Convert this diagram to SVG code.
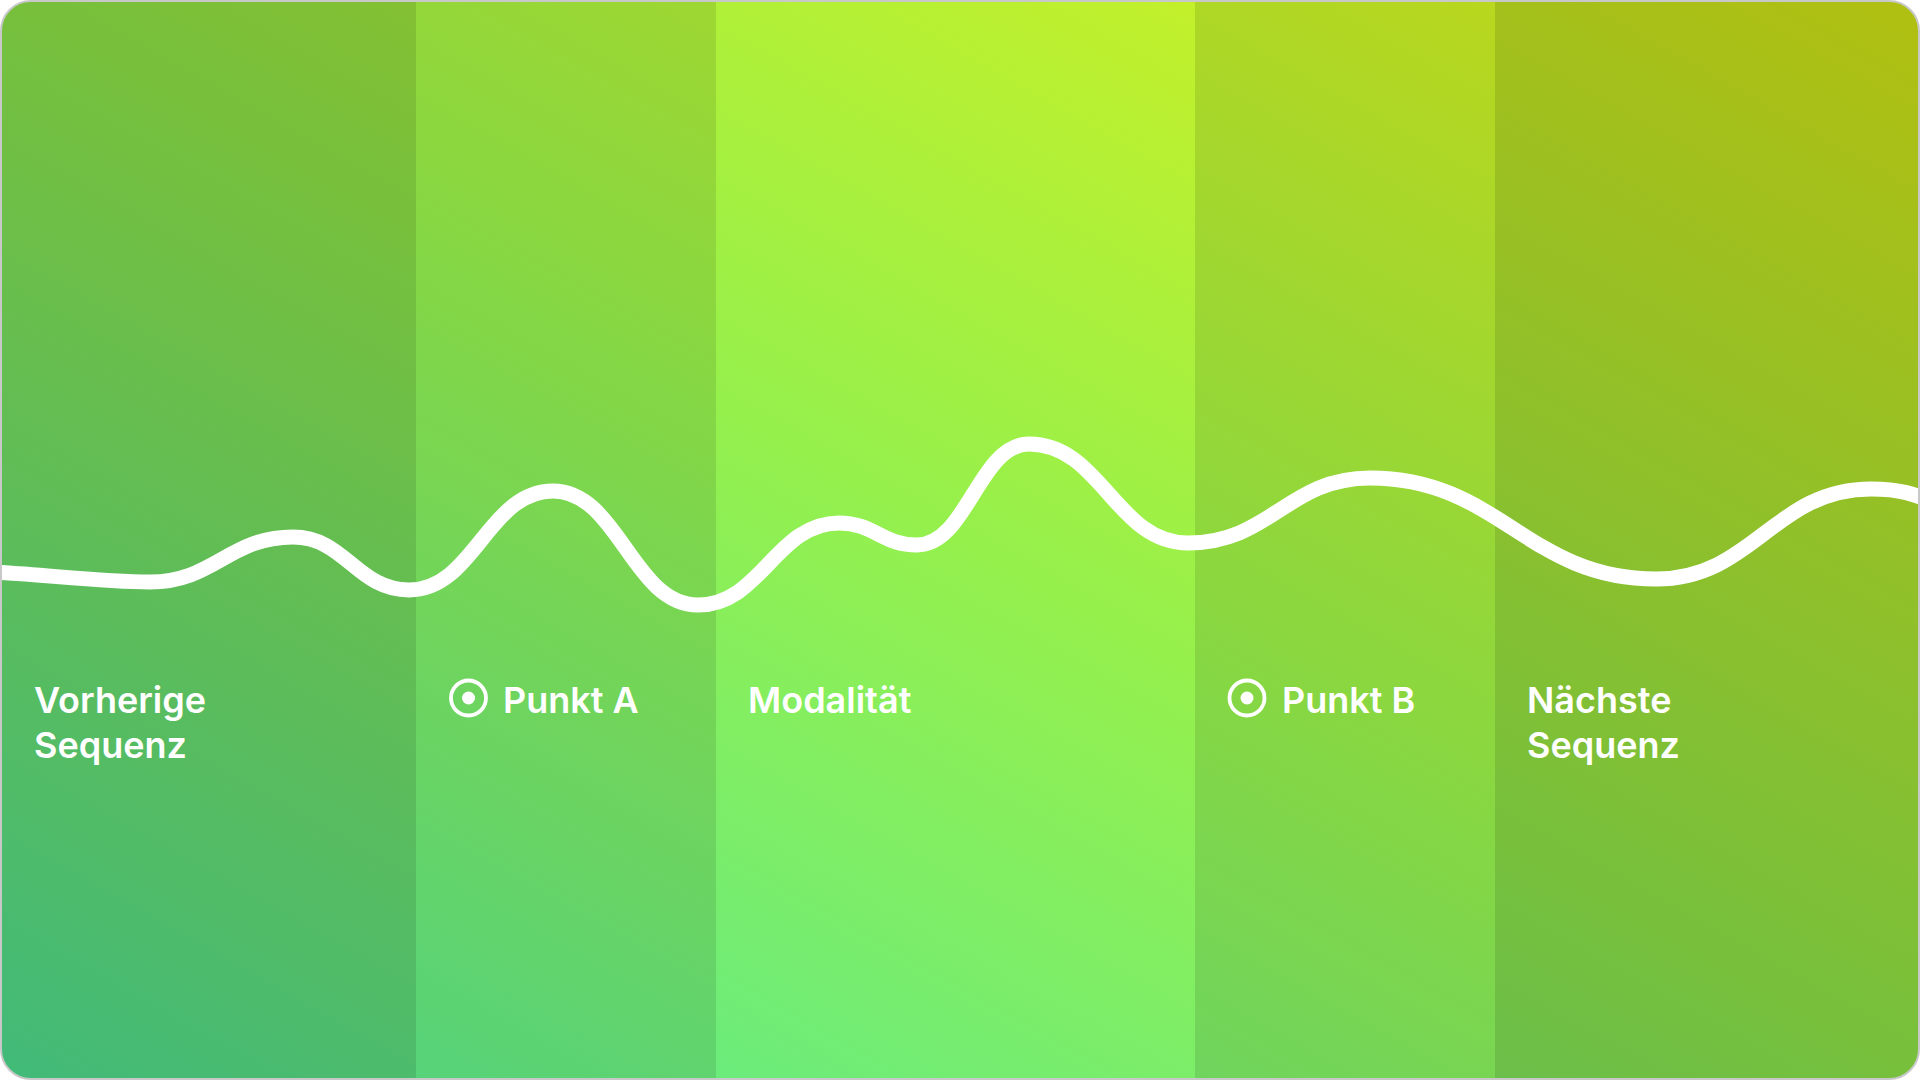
<svg xmlns="http://www.w3.org/2000/svg" width="1920" height="1080" viewBox="0 0 1920 1080">
  <defs>
    <linearGradient id="bg" x1="0" y1="1" x2="1" y2="0">
      <stop offset="0" stop-color="#52e998"/>
      <stop offset="0.5" stop-color="#95f04c"/>
      <stop offset="1" stop-color="#def016"/>
    </linearGradient>
    <clipPath id="card">
      <rect x="1" y="1" width="1918" height="1078" rx="30" ry="30"/>
    </clipPath>
    <style>
      .shade1 { fill: #000; fill-opacity: 0.2; }
      .shade2 { fill: #000; fill-opacity: 0.1; }
      .label { font-family: "Inter", "Noto Sans", sans-serif; font-size: 36px; font-weight: 600; fill: #ffffff; }
      .ring { fill: none; stroke: #ffffff; stroke-width: 3.8; }
      .dot { fill: #ffffff; }
      .wave { fill: none; stroke: #ffffff; stroke-width: 15; stroke-linecap: round; stroke-linejoin: round; }
    </style>
  </defs>
  <rect x="0" y="0" width="1920" height="1080" fill="#ffffff"/>
  <g clip-path="url(#card)">
    <rect x="0" y="0" width="1920" height="1080" fill="url(#bg)"/>
    <g id="col-vorherige">
      <rect class="shade1" x="0" y="0" width="416" height="1080"/>
      <text class="label" x="34" y="713">Vorherige</text>
      <text class="label" x="34" y="758">Sequenz</text>
    </g>
    <g id="col-punkt-a">
      <rect class="shade2" x="416" y="0" width="300" height="1080"/>
      <circle class="ring" cx="468.5" cy="698" r="17.5"/>
      <circle class="dot" cx="468.5" cy="698" r="6.5"/>
      <text class="label" x="503" y="713">Punkt A</text>
    </g>
    <g id="col-modalitaet">
      <text class="label" x="748" y="713">Modalität</text>
    </g>
    <g id="col-punkt-b">
      <rect class="shade2" x="1195" y="0" width="300" height="1080"/>
      <circle class="ring" cx="1247" cy="698" r="17.5"/>
      <circle class="dot" cx="1247" cy="698" r="6.5"/>
      <text class="label" x="1282" y="713">Punkt B</text>
    </g>
    <g id="col-naechste">
      <rect class="shade1" x="1495" y="0" width="425" height="1080"/>
      <text class="label" x="1527" y="713">Nächste</text>
      <text class="label" x="1527" y="758">Sequenz</text>
    </g>
    <g id="connectors">
      <path class="wave" d="M -10 572 C 40 574, 100 582, 150 582 C 214 582, 229 537, 293 537 C 345 537, 357 590, 409 590 C 474 590, 488 491, 553 491 C 618 491, 633 605, 698 605 C 761 605, 776 523, 839 523 C 874 523, 882 545, 917 545 C 967 545, 979 444, 1029 444 C 1101 444, 1116 543, 1188 543 C 1270 543, 1288 478, 1370 478 C 1499 478, 1527 579, 1656 579 C 1753 579, 1774 489, 1871 489 C 1900 489, 1915 494, 1935 503"/>
    </g>
  </g>
  <rect x="1" y="1" width="1918" height="1078" rx="30" ry="30" fill="none" stroke="#c8c8c8" stroke-width="2"/>
</svg>
